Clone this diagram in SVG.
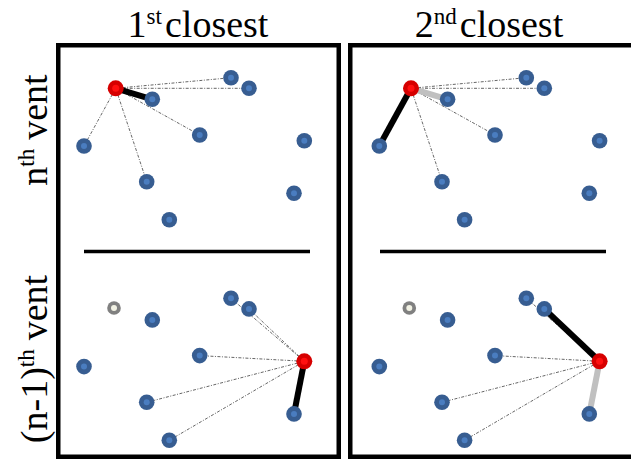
<svg xmlns="http://www.w3.org/2000/svg" xmlns:xlink="http://www.w3.org/1999/xlink" width="631" height="461" viewBox="0 0 631 461">
<style>
.lbl{font-family:"Liberation Serif","Times New Roman",serif;font-size:38px;fill:#000}
.frame{fill:none;stroke:#000;stroke-width:4.5}
.sep{stroke:#000;stroke-width:3.5}
.dd{stroke:#555;stroke-width:0.9;stroke-dasharray:3 1.5 1 1.5;fill:none}
.thick{stroke:#000;stroke-width:6;stroke-linecap:butt}
.light{stroke:#c0c0c0;stroke-width:6;stroke-linecap:butt}
</style>
<defs>
<g id="blue"><circle r="7.8" fill="#375d91"/><circle r="3" fill="#4a7dc0"/></g>
<g id="red"><circle r="8" fill="#d60000"/><circle r="3.5" fill="#ff1010"/></g>
<g id="gray"><circle r="6.8" fill="#808080"/><circle r="3" fill="#f2f2e4"/></g>
</defs>
<rect width="631" height="461" fill="#fff"/>
<g id="titles">
<text class="lbl" x="198" y="37" text-anchor="middle">1<tspan font-size="23" dy="-13">st</tspan><tspan dy="13" dx="3">closest</tspan></text>
<text class="lbl" x="489" y="37" text-anchor="middle">2<tspan font-size="23" dy="-13">nd</tspan><tspan dy="13" dx="3">closest</tspan></text>
<text class="lbl" transform="translate(47,130) rotate(-90)" text-anchor="middle">n<tspan font-size="23" dy="-13">th</tspan><tspan dy="13" dx="9">vent</tspan></text>
<text class="lbl" transform="translate(47,359) rotate(-90)" text-anchor="middle">(n-1)<tspan font-size="23" dy="-13">th</tspan><tspan dy="13" dx="9">vent</tspan></text>
</g>
<g id="frames">
<rect class="frame" x="58.25" y="45.25" width="280.5" height="411.5"/>
<rect class="frame" x="350.25" y="45.25" width="300" height="411.5"/>
<line class="sep" x1="84" y1="251.5" x2="310" y2="251.5"/>
<line class="sep" x1="380" y1="251.5" x2="606" y2="251.5"/>
</g>
<g id="connectors">
<line class="dd" x1="115.7" y1="88.3" x2="231" y2="77.7"/>
<line class="dd" x1="115.7" y1="88.3" x2="249" y2="88.3"/>
<line class="dd" x1="115.7" y1="88.3" x2="199.7" y2="135"/>
<line class="dd" x1="115.7" y1="88.3" x2="84" y2="146"/>
<line class="dd" x1="115.7" y1="88.3" x2="146.7" y2="181.7"/>
<line class="thick" x1="115.7" y1="88.3" x2="152.3" y2="99.3"/>
<line class="dd" x1="411" y1="88.3" x2="526.3" y2="77.7"/>
<line class="dd" x1="411" y1="88.3" x2="544.3" y2="88.3"/>
<line class="dd" x1="411" y1="88.3" x2="495" y2="135"/>
<line class="dd" x1="411" y1="88.3" x2="442" y2="181.7"/>
<line class="light" x1="411" y1="88.3" x2="447.6" y2="99.3"/>
<line class="thick" x1="411" y1="88.3" x2="379.3" y2="146"/>
<line class="dd" x1="304.3" y1="361.3" x2="231" y2="298.3"/>
<line class="dd" x1="304.3" y1="361.3" x2="249" y2="308.9"/>
<line class="dd" x1="304.3" y1="361.3" x2="199.7" y2="355.6"/>
<line class="dd" x1="304.3" y1="361.3" x2="146.7" y2="402.3"/>
<line class="dd" x1="304.3" y1="361.3" x2="169.3" y2="440.3"/>
<line class="thick" x1="304.3" y1="361.3" x2="294" y2="413.9"/>
<line class="dd" x1="599.6" y1="361.3" x2="526.3" y2="298.3"/>
<line class="dd" x1="599.6" y1="361.3" x2="495" y2="355.6"/>
<line class="dd" x1="599.6" y1="361.3" x2="442" y2="402.3"/>
<line class="dd" x1="599.6" y1="361.3" x2="464.6" y2="440.3"/>
<line class="thick" x1="599.6" y1="361.3" x2="544.3" y2="308.9"/>
<line class="light" x1="599.6" y1="361.3" x2="589.3" y2="413.9"/>
</g>
<g id="p1top">
<g id="p1t-A"><use xlink:href="#blue" x="152.3" y="99.3"/></g>
<g id="p1t-B"><use xlink:href="#blue" x="231" y="77.7"/></g>
<g id="p1t-C"><use xlink:href="#blue" x="249" y="88.3"/></g>
<g id="p1t-D"><use xlink:href="#blue" x="199.7" y="135"/></g>
<g id="p1t-E"><use xlink:href="#blue" x="304.3" y="140.7"/></g>
<g id="p1t-F"><use xlink:href="#blue" x="84" y="146"/></g>
<g id="p1t-G"><use xlink:href="#blue" x="146.7" y="181.7"/></g>
<g id="p1t-H"><use xlink:href="#blue" x="294" y="193.3"/></g>
<g id="p1t-I"><use xlink:href="#blue" x="169.3" y="219.7"/></g>
<g id="p1t-R"><use xlink:href="#red" x="115.7" y="88.3"/></g>
</g>
<g id="p2top">
<g id="p2t-A"><use xlink:href="#blue" x="447.6" y="99.3"/></g>
<g id="p2t-B"><use xlink:href="#blue" x="526.3" y="77.7"/></g>
<g id="p2t-C"><use xlink:href="#blue" x="544.3" y="88.3"/></g>
<g id="p2t-D"><use xlink:href="#blue" x="495" y="135"/></g>
<g id="p2t-E"><use xlink:href="#blue" x="599.6" y="140.7"/></g>
<g id="p2t-F"><use xlink:href="#blue" x="379.3" y="146"/></g>
<g id="p2t-G"><use xlink:href="#blue" x="442" y="181.7"/></g>
<g id="p2t-H"><use xlink:href="#blue" x="589.3" y="193.3"/></g>
<g id="p2t-I"><use xlink:href="#blue" x="464.6" y="219.7"/></g>
<g id="p2t-R"><use xlink:href="#red" x="411" y="88.3"/></g>
</g>
<g id="p1bottom">
<g id="p1b-X"><use xlink:href="#gray" x="114" y="308"/></g>
<g id="p1b-A"><use xlink:href="#blue" x="152.3" y="319.9"/></g>
<g id="p1b-B"><use xlink:href="#blue" x="231" y="298.3"/></g>
<g id="p1b-C"><use xlink:href="#blue" x="249" y="308.9"/></g>
<g id="p1b-D"><use xlink:href="#blue" x="199.7" y="355.6"/></g>
<g id="p1b-F"><use xlink:href="#blue" x="84" y="366.6"/></g>
<g id="p1b-G"><use xlink:href="#blue" x="146.7" y="402.3"/></g>
<g id="p1b-H"><use xlink:href="#blue" x="294" y="413.9"/></g>
<g id="p1b-I"><use xlink:href="#blue" x="169.3" y="440.3"/></g>
<g id="p1b-R"><use xlink:href="#red" x="304.3" y="361.3"/></g>
</g>
<g id="p2bottom">
<g id="p2b-X"><use xlink:href="#gray" x="409.3" y="308"/></g>
<g id="p2b-A"><use xlink:href="#blue" x="447.6" y="319.9"/></g>
<g id="p2b-B"><use xlink:href="#blue" x="526.3" y="298.3"/></g>
<g id="p2b-C"><use xlink:href="#blue" x="544.3" y="308.9"/></g>
<g id="p2b-D"><use xlink:href="#blue" x="495" y="355.6"/></g>
<g id="p2b-F"><use xlink:href="#blue" x="379.3" y="366.6"/></g>
<g id="p2b-G"><use xlink:href="#blue" x="442" y="402.3"/></g>
<g id="p2b-H"><use xlink:href="#blue" x="589.3" y="413.9"/></g>
<g id="p2b-I"><use xlink:href="#blue" x="464.6" y="440.3"/></g>
<g id="p2b-R"><use xlink:href="#red" x="599.6" y="361.3"/></g>
</g>
</svg>
